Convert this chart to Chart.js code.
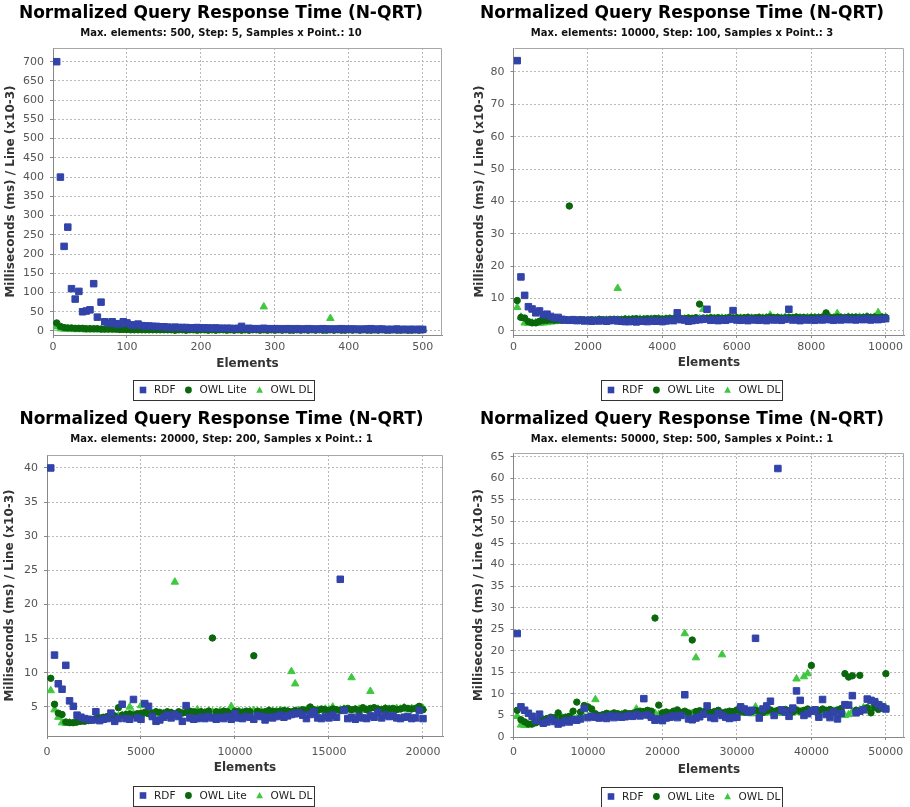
<!DOCTYPE html>
<html>
<head>
<meta charset="utf-8">
<script src="https://cdn.jsdelivr.net/npm/chart.js@4.4.0/dist/chart.umd.min.js"></script>
<style>
  body { margin: 0; background: #fff; }
  .panel { position: absolute; }
</style>
</head>
<body>
<div class="panel" style="left:0px;top:0px"><canvas id="panel0" width="455" height="403"></canvas></div>
<div class="panel" style="left:455px;top:0px"><canvas id="panel1" width="455" height="403"></canvas></div>
<div class="panel" style="left:0px;top:406px"><canvas id="panel2" width="455" height="401"></canvas></div>
<div class="panel" style="left:455px;top:406px"><canvas id="panel3" width="455" height="401"></canvas></div>
<script>
// series and run parameters
const seriesNames = ['RDF', 'OWL Lite', 'OWL DL'];
const maxElements = [500, 10000, 20000, 50000];
const stepSizes = [5, 100, 200, 500];
const samplesPerPoint = [10, 3, 1, 1];
const xTickSteps = [100, 2000, 5000, 10000];
const yTickSteps = [50, 10, 5, 5];

// run 1: 500 elements, step 5
const rdf500 = [
  700, 400, 220, 270, 110, 83, 103, 50, 52, 55,
  123, 36, 75, 24, 20, 24, 19, 18, 24, 21,
  16, 15, 18, 14, 13, 13, 12, 12, 11, 11,
  10, 9, 10, 9, 9, 9, 8, 8, 9, 8,
  8, 8, 7, 8, 7, 7, 7, 7, 6, 7,
  12, 6, 7, 6, 6, 6, 7, 6, 6, 6,
  6, 5, 6, 6, 5, 6, 5, 5, 6, 5,
  5, 5, 6, 5, 5, 5, 5, 6, 5, 5,
  5, 5, 4, 5, 5, 6, 4, 5, 5, 4,
  4, 4, 5, 4, 4, 4, 4, 4, 4, 4
];
const owlLite500 = [
  21, 12, 9, 8, 8, 7, 7, 7, 6, 6,
  6, 6, 5, 5, 5, 5, 5, 4, 4, 4,
  3, 3, 3, 3, 3, 3, 3, 3, 3, 3,
  3, 3, 2, 3, 3, 2, 3, 3, 2, 3,
  3, 2, 3, 2, 3, 3, 2, 3, 2, 3,
  2, 3, 2, 3, 3, 2, 3, 2, 3, 2,
  3, 2, 3, 2, 2, 3, 2, 3, 2, 3,
  2, 3, 2, 2, 3, 2, 3, 2, 2, 3,
  2, 3, 2, 3, 2, 2, 3, 2, 3, 2,
  2, 3, 2, 2, 3, 2, 2, 3, 2, 3
];
const owlDl500 = [
  11, 6, 5, 5, 4, 4, 4, 4, 3, 4,
  3, 4, 3, 3, 4, 3, 3, 3, 3, 3,
  3, 3, 3, 2, 3, 3, 2, 3, 3, 2,
  3, 2, 3, 3, 2, 3, 2, 3, 2, 3,
  2, 3, 2, 3, 2, 3, 2, 2, 3, 2,
  3, 2, 3, 2, 3, 2, 63, 3, 2, 3,
  2, 3, 2, 3, 2, 3, 2, 3, 2, 3,
  2, 3, 2, 3, 33, 2, 3, 2, 3, 2,
  3, 2, 3, 2, 3, 2, 3, 2, 3, 2,
  3, 2, 3, 2, 3, 2, 3, 2, 3, 3
];

// run 2: 10000 elements, step 100
const rdf10000 = [
  83.5, 16.7, 11.0, 7.5, 6.8, 5.6, 6.2, 5.0, 5.2, 4.5,
  4.0, 4.2, 3.6, 3.4, 3.3, 3.5, 3.2, 3.4, 3.1, 3.3,
  3.0, 3.2, 3.1, 3.3, 3.0, 3.2, 3.4, 3.1, 3.0, 2.9,
  2.9, 3.0, 2.8, 3.1, 3.0, 2.9, 3.2, 3.0, 3.1, 2.9,
  3.1, 3.3, 3.2, 5.6, 3.5, 3.4, 3.0, 3.2, 3.4, 3.5,
  3.6, 6.7, 3.3, 3.4, 3.2, 3.5, 3.3, 3.6, 6.3, 3.4,
  3.3, 3.5, 3.2, 3.6, 3.4, 3.3, 3.5, 3.2, 3.6, 3.4,
  3.5, 3.3, 3.6, 6.7, 3.4, 3.5, 3.2, 3.6, 3.4, 3.5,
  3.3, 3.6, 3.4, 3.8, 3.5, 3.3, 3.6, 3.4, 3.7, 3.5,
  3.6, 3.4, 3.7, 3.5, 3.8, 3.4, 3.6, 3.5, 3.7, 3.8
];
const owlLite10000 = [
  9.4, 4.2, 4.0, 2.9, 2.5, 2.5, 3.0, 3.2, 3.3, 3.4,
  3.3, 3.4, 3.3, 3.5, 38.6, 3.4, 3.3, 3.5, 3.4, 3.4,
  3.5, 3.4, 3.6, 3.5, 3.4, 3.6, 3.5, 3.6, 3.5, 3.7,
  3.6, 3.7, 3.8, 3.6, 3.7, 3.8, 3.7, 3.9, 3.8, 3.7,
  3.8, 3.9, 3.8, 4.0, 3.9, 3.8, 4.0, 3.9, 4.1, 8.3,
  4.0, 3.9, 4.1, 4.0, 4.1, 3.9, 4.0, 4.2, 4.0, 4.1,
  4.0, 4.1, 4.2, 4.0, 4.1, 4.2, 4.0, 4.1, 4.3, 4.1,
  4.2, 4.0, 4.1, 4.2, 4.1, 4.3, 4.1, 4.2, 4.0, 4.2,
  4.1, 4.2, 4.3, 5.6, 4.2, 4.1, 4.3, 4.2, 4.1, 4.3,
  4.2, 4.3, 4.1, 4.2, 4.4, 4.2, 4.3, 4.1, 4.3, 4.2
];
const owlDl10000 = [
  7.3, 4.3, 2.5, 2.4, 2.5, 2.6, 2.4, 2.5, 2.6, 2.8,
  2.9, 3.0, 3.1, 3.0, 3.1, 3.2, 3.1, 3.2, 3.3, 3.2,
  3.3, 3.2, 3.4, 3.3, 3.4, 3.3, 3.5, 13.2, 3.4, 3.5,
  3.5, 3.6, 3.5, 3.7, 3.6, 3.5, 3.7, 3.6, 3.8, 3.6,
  3.7, 3.8, 3.7, 3.9, 3.6, 3.8, 3.9, 3.7, 3.8, 3.9,
  6.7, 3.9, 4.0, 3.8, 3.9, 4.0, 3.8, 4.1, 3.9, 4.0,
  4.0, 3.9, 4.1, 4.0, 3.9, 4.1, 4.0, 4.2, 4.9, 4.0,
  4.1, 4.0, 4.2, 4.1, 4.0, 4.2, 4.1, 4.0, 4.2, 4.1,
  4.2, 4.1, 4.0, 4.2, 4.3, 4.1, 5.4, 4.2, 4.1, 4.3,
  4.2, 4.1, 4.3, 4.2, 4.4, 4.1, 4.3, 5.7, 4.2, 4.3
];

// run 3: 20000 elements, step 200
const rdf20000 = [
  40.0, 12.6, 8.4, 7.6, 11.1, 5.9, 5.1, 3.8, 3.5, 3.3,
  3.2, 3.1, 4.3, 3.0, 3.2, 3.3, 4.1, 2.9, 3.3, 5.4,
  3.3, 3.2, 6.1, 3.4, 3.2, 5.5, 5.1, 3.6, 2.9, 3.1,
  3.5, 3.8, 3.4, 3.9, 3.6, 2.9, 5.2, 3.4, 3.2, 3.3,
  3.5, 3.3, 3.6, 3.4, 3.2, 3.5, 3.3, 3.6, 3.2, 4.0,
  3.4, 3.3, 3.6, 3.5, 3.2, 3.7, 3.6, 3.1, 3.5, 3.4,
  3.6, 3.8, 3.5, 3.7, 3.9, 4.0, 4.1, 3.8, 3.3, 3.9,
  4.3, 3.4, 3.3, 3.6, 3.4, 3.8, 3.5, 23.7, 4.5, 3.3,
  3.5, 3.2, 3.6, 3.4, 3.3, 3.7, 3.5, 4.2, 3.4, 3.8,
  3.6, 3.7, 3.4, 3.3, 3.5, 3.6, 3.3, 3.4, 4.5, 3.3
];
const owlLite20000 = [
  9.2, 5.4, 4.1, 3.9, 2.8, 2.7, 2.7, 2.8, 2.9, 2.9,
  3.0, 3.1, 3.3, 3.4, 3.5, 3.6, 3.5, 3.7, 4.9, 3.8,
  3.9, 4.0, 3.8, 4.0, 4.1, 4.2, 4.0, 4.1, 4.3, 4.2,
  4.1, 4.3, 4.2, 4.0, 4.3, 4.1, 4.2, 4.4, 4.3, 4.2,
  4.3, 4.2, 4.4, 15.1, 4.3, 4.2, 4.4, 4.3, 4.1, 4.4,
  4.3, 4.2, 4.4, 4.3, 12.5, 4.4, 4.2, 4.3, 4.5, 4.4,
  4.3, 4.4, 4.5, 4.4, 4.3, 4.5, 4.4, 4.6, 4.5, 5.0,
  4.6, 4.5, 4.7, 4.6, 4.5, 4.7, 4.6, 4.5, 4.7, 4.8,
  4.6, 4.7, 4.5, 4.9, 4.6, 4.8, 4.9, 4.7, 4.6, 4.8,
  4.7, 4.8, 4.6, 4.7, 4.9, 4.8, 4.7, 4.8, 5.1, 4.6
];
const owlDl20000 = [
  7.4, 4.6, 3.5, 2.7, 2.6, 2.7, 2.6, 2.8, 2.9, 3.0,
  2.9, 3.0, 3.1, 3.3, 3.2, 3.4, 3.5, 3.6, 3.7, 3.8,
  3.9, 5.0, 4.0, 3.9, 5.2, 4.0, 4.1, 4.0, 4.2, 4.1,
  4.0, 4.2, 4.1, 23.3, 4.2, 4.1, 4.3, 4.2, 4.1, 4.6,
  4.3, 4.2, 4.4, 4.3, 4.2, 4.4, 4.3, 4.2, 5.1, 4.3,
  4.4, 4.3, 4.2, 4.4, 4.5, 4.3, 4.4, 4.2, 4.5, 4.3,
  4.4, 4.5, 4.3, 4.4, 10.2, 8.4, 4.5, 4.4, 4.6, 4.5,
  4.4, 4.6, 4.5, 4.7, 4.6, 5.0, 4.5, 4.6, 4.7, 4.5,
  9.3, 4.6, 4.7, 4.5, 4.6, 7.3, 4.8, 4.7, 4.6, 4.8,
  4.7, 4.6, 4.8, 4.7, 4.9, 4.6, 4.8, 4.7, 4.9, 4.8
];

// run 4: 50000 elements, step 500
const rdf50000 = [
  24.0, 7.0, 6.2, 5.5, 4.8, 3.8, 5.3, 3.2, 3.5, 4.2,
  3.6, 3.0, 3.3, 3.8, 3.5, 4.0, 3.9, 4.2, 6.6, 4.5,
  4.8, 4.6, 4.4, 4.7, 4.3, 4.9, 4.5, 4.8, 4.6, 4.7,
  5.0, 4.8, 5.2, 4.9, 8.9, 5.1, 4.6, 3.9, 4.2, 3.8,
  4.4, 4.6, 4.9, 4.5, 5.0, 9.8, 4.2, 4.0, 4.4, 4.7,
  5.3, 7.2, 4.5, 4.3, 5.5, 5.0, 4.6, 4.3, 4.5, 4.6,
  7.0, 6.5, 5.8, 6.2, 22.9, 4.4, 6.5, 7.2, 8.3, 5.0,
  62.3, 6.3, 5.8, 4.8, 6.7, 10.7, 8.5, 5.0, 5.4, 6.0,
  6.3, 4.6, 8.7, 5.2, 4.5, 5.8, 4.2, 5.5, 7.5, 7.4,
  9.6, 5.6, 6.0, 6.3, 8.8, 8.5, 8.2, 7.5, 7.0, 6.5
];
const owlLite50000 = [
  6.2, 4.0, 3.5, 3.0, 3.0, 3.3, 3.6, 4.0, 4.3, 4.6,
  4.5, 5.6, 4.4, 4.6, 4.8, 6.0, 8.1, 5.8, 7.3, 7.0,
  6.5, 5.4, 5.0, 5.2, 5.5, 5.3, 5.6, 5.4, 5.2, 5.6,
  5.4, 5.5, 5.8, 6.0, 5.9, 6.2, 6.0, 27.6, 7.4, 5.6,
  5.8, 5.5, 6.0, 6.3, 5.7, 6.0, 5.6, 22.5, 5.9, 6.1,
  5.8, 6.0, 5.7, 5.9, 6.2, 5.6, 5.8, 6.0, 5.9, 6.3,
  6.0, 5.8, 6.1, 5.9, 6.2, 6.0, 5.7, 6.1, 6.3, 5.9,
  6.2, 6.0, 6.4, 6.1, 5.8, 6.3, 6.0, 6.2, 6.5, 16.6,
  6.3, 6.1, 6.5, 6.2, 6.4, 6.0, 6.3, 6.6, 14.7, 13.9,
  14.2, 6.2, 14.3, 6.5, 6.8, 5.6, 6.9, 6.4, 6.7, 14.7
];
const owlDl50000 = [
  4.8, 2.8, 2.7, 2.8, 3.3, 3.6, 3.8, 4.0, 3.9, 4.2,
  4.3, 4.1, 4.5, 4.4, 4.6, 4.5, 4.3, 4.7, 4.6, 4.8,
  5.0, 8.7, 4.8, 5.0, 4.9, 5.1, 5.0, 4.8, 5.2, 5.1,
  5.0, 5.3, 6.5, 5.2, 5.4, 5.1, 5.3, 5.5, 5.2, 5.4,
  5.3, 5.5, 5.2, 5.6, 5.4, 24.0, 5.3, 5.5, 18.4, 5.6,
  5.4, 5.7, 5.5, 5.3, 5.6, 19.1, 5.4, 5.7, 5.5, 5.8,
  5.6, 5.5, 5.8, 5.4, 7.0, 5.7, 5.5, 5.9, 5.6, 5.8,
  5.7, 5.5, 5.9, 5.6, 5.8, 13.5, 5.7, 14.0, 14.7, 5.9,
  5.8, 6.0, 5.7, 5.9, 5.6, 6.0, 5.8, 5.1, 5.0, 5.2,
  5.9, 6.1, 6.3, 6.8, 6.2, 6.5, 6.9, 7.5, 7.2, 6.8
];

const seriesValues = [
  [rdf500, owlLite500, owlDl500],
  [rdf10000, owlLite10000, owlDl10000],
  [rdf20000, owlLite20000, owlDl20000],
  [rdf50000, owlLite50000, owlDl50000]
];

// look and placement
const FONT = '"DejaVu Sans", sans-serif';
const seriesColors = ['#3243a9', '#0b670b', '#3fc83f'];
const seriesShapes = ['rect', 'circle', 'triangle'];
const pointRadii = [4.6, 3.2, 4.3];

// area = [left, top, right, bottom] of the plot inside each canvas
const frames = [
  { w: 455, h: 403, area: [53, 48, 442, 335], x: [0, 526], y: [-10.4, 735.6], xLabelY: 347, xTitleY: 363.5, yTitleX: 11, legendX: 133, legendY: 390 },
  { w: 455, h: 403, area: [58.5, 48, 454, 335], x: [0, 10505], y: [-1.24, 87.4], xLabelY: 347, xTitleY: 363.3, yTitleX: 25, legendX: 146, legendY: 390 },
  { w: 455, h: 401, area: [47, 49, 443, 330], x: [0, 21064], y: [0.75, 41.9], xLabelY: 346, xTitleY: 362, yTitleX: 10, legendX: 133, legendY: 389.5 },
  { w: 455, h: 401, area: [58.5, 47, 454, 331], x: [0, 52489], y: [0, 65.9], xLabelY: 346, xTitleY: 364, yTitleX: 24, legendX: 146, legendY: 390.5 }
];

function toPoints(values, step) {
  return values.map((v, i) => ({ x: step * (i + 1), y: v }));
}

// tick marks at every multiple of the step inside the axis range
function stepTicks(min, max, step) {
  const out = [];
  for (let v = Math.ceil(min / step) * step; v <= max + 1e-9; v += step) {
    out.push({ value: v });
  }
  return out;
}

function drawMarker(ctx, shape, x, y, r) {
  ctx.beginPath();
  if (shape === 'rect') {
    ctx.rect(x - r, y - r, 2 * r, 2 * r);
  } else if (shape === 'circle') {
    ctx.arc(x, y, r, 0, Math.PI * 2);
  } else {
    ctx.moveTo(x, y - r);
    ctx.lineTo(x + r, y + r * 0.8);
    ctx.lineTo(x - r, y + r * 0.8);
    ctx.closePath();
  }
  ctx.fill();
}

// plot outline (top/right) and the boxed legend under the chart
const legendBox = {
  id: 'legendBox',
  beforeDatasetsDraw(chart) {
    const a = chart.chartArea;
    const ctx = chart.ctx;
    ctx.save();
    ctx.strokeStyle = '#a8a8a8';
    ctx.lineWidth = 1;
    ctx.beginPath();
    ctx.moveTo(Math.round(a.left) + 0.5, Math.round(a.top) + 0.5);
    ctx.lineTo(Math.round(a.right) - 0.5, Math.round(a.top) + 0.5);
    ctx.lineTo(Math.round(a.right) - 0.5, Math.round(a.bottom) + 0.5);
    ctx.stroke();
    ctx.restore();
  },
  afterDraw(chart, args, opts) {
    const ctx = chart.ctx;
    const sets = chart.data.datasets;
    ctx.save();
    ctx.font = '10.5px ' + FONT;
    ctx.textBaseline = 'middle';
    let x = opts.x + 10;
    sets.forEach((d, k) => {
      ctx.fillStyle = d.backgroundColor;
      drawMarker(ctx, d.pointStyle, x, opts.y, k === 0 ? 3.3 : 3.4);
      ctx.fillStyle = '#222';
      ctx.fillText(d.label, x + 11, opts.y + 0.5);
      x += 11 + ctx.measureText(d.label).width + 13;
    });
    const right = Math.round(x - 11);
    ctx.strokeStyle = '#333';
    ctx.lineWidth = 1;
    ctx.strokeRect(opts.x + 0.5, Math.round(opts.y - 10) + 0.5, right - opts.x, 20);
    ctx.restore();
  }
};

function createPanel(i) {
  const f = frames[i];
  const [aL, aT, aR, aB] = f.area;
  const xScaleH = f.xTitleY - aB + 7.2 + 2;
  const ctx = document.getElementById('panel' + i).getContext('2d');
  return new Chart(ctx, {
    type: 'scatter',
    data: {
      datasets: seriesValues[i].map((vals, s) => ({
        label: seriesNames[s],
        data: toPoints(vals, stepSizes[i]),
        pointStyle: seriesShapes[s],
        pointRadius: pointRadii[s],
        backgroundColor: seriesColors[s],
        borderColor: seriesColors[s],
        borderWidth: 1
      }))
    },
    options: {
      responsive: false,
      animation: false,
      devicePixelRatio: 1,
      layout: {
        padding: { left: 0, top: 0, right: f.w - aR, bottom: f.h - aB - xScaleH }
      },
      plugins: {
        legend: { display: false },
        tooltip: { enabled: false },
        title: {
          display: true,
          text: 'Normalized Query Response Time (N-QRT)',
          color: '#000',
          font: { family: FONT, size: 17, weight: 'bold' },
          padding: { top: 3.8, bottom: 3 }
        },
        subtitle: {
          display: true,
          text: 'Max. elements: ' + maxElements[i] + ', Step: ' + stepSizes[i] + ', Samples x Point.: ' + samplesPerPoint[i],
          color: '#111',
          font: { family: FONT, size: 10, weight: 'bold' },
          padding: { top: 0, bottom: aT - 39.2 }
        },
        legendBox: { x: f.legendX, y: f.legendY }
      },
      scales: {
        x: {
          type: 'linear',
          min: f.x[0],
          max: f.x[1],
          afterBuildTicks: s => { s.ticks = stepTicks(s.min, s.max, xTickSteps[i]); },
          ticks: {
            maxRotation: 0,
            autoSkip: false,
            color: '#555',
            font: { family: FONT, size: 11 },
            padding: f.xLabelY - aB - 6.6 - 3,
            callback: v => String(v)
          },
          grid: { color: '#b8b8b8', tickLength: 3, tickColor: '#888' },
          border: { color: '#888', dash: [2, 2] },
          title: {
            display: true,
            text: 'Elements',
            color: '#333',
            font: { family: FONT, size: 12, weight: 'bold' },
            padding: { top: 0, bottom: 2 }
          },
          afterFit: s => { s.height = xScaleH; }
        },
        y: {
          type: 'linear',
          min: f.y[0],
          max: f.y[1],
          afterBuildTicks: s => { s.ticks = stepTicks(s.min, s.max, yTickSteps[i]); },
          ticks: {
            autoSkip: false,
            color: '#555',
            font: { family: FONT, size: 11 },
            padding: 6,
            callback: v => String(v)
          },
          grid: { color: '#b8b8b8', tickLength: 3, tickColor: '#888' },
          border: { color: '#888', dash: [2, 2] },
          title: {
            display: true,
            text: 'Milliseconds (ms) / Line (x10-3)',
            color: '#333',
            font: { family: FONT, size: 12, weight: 'bold' },
            padding: { top: f.yTitleX - 7.2, bottom: 0 }
          },
          afterFit: s => { s.width = aL; }
        }
      }
    },
    plugins: [legendBox]
  });
}

window.charts = [0, 1, 2, 3].map(createPanel);
</script>
</body>
</html>
